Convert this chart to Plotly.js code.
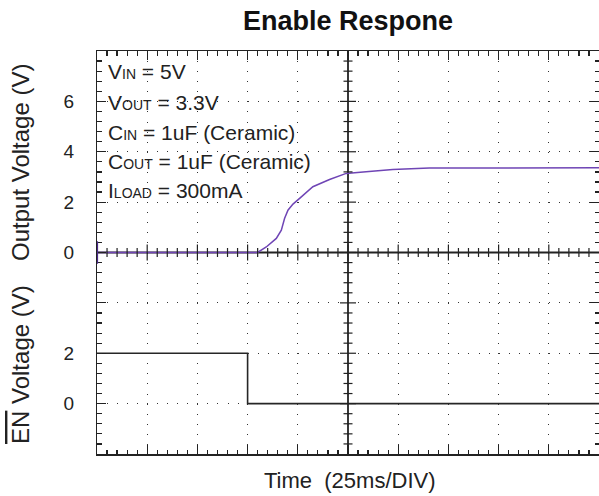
<!DOCTYPE html>
<html>
<head>
<meta charset="utf-8">
<script src="https://cdn.plot.ly/plotly-3.0.1.min.js"></script>
<style>
  html, body { margin: 0; padding: 0; background: #fff; }
  #chart { width: 599px; height: 496px; }
</style>
</head>
<body>
<div id="chart"></div>
<script>
// Time base: 25 ms per division, 10 divisions across
const timeMs = [0, 80, 84.3, 89.3, 91.8, 93.4, 95.1, 97.6, 100.9, 107.5, 115.8, 124.1, 134, 147.3, 165.5, 200, 250];
// Output voltage (upper channel, 2 V/div)
const vOut = [0, 0, 0.22, 0.56, 0.89, 1.35, 1.68, 1.92, 2.15, 2.61, 2.90, 3.14, 3.21, 3.30, 3.35, 3.36, 3.36];
// EN-bar voltage (lower channel, 2 V/div)
const enTimeMs = [0, 75, 75, 250];
const vEn = [2, 2, 0, 0];

const outTicks = [0, 2, 4, 6];
const enTicks = [0, 2];
const conditions = [
  'V<span style="font-size:14px">IN</span> = 5V',
  'V<span style="font-size:14px">OUT</span> = 3.3V',
  'C<span style="font-size:14px">IN</span> = 1uF (Ceramic)',
  'C<span style="font-size:14px">OUT</span> = 1uF (Ceramic)',
  'I<span style="font-size:14px">LOAD</span> = 300mA'
];

const FONT = 'Arial, "Liberation Sans", sans-serif';
const INK = '#222';
const TRACE_PURPLE = '#6f45b5';

// Plot box in pixels
const W = 599, H = 496;
const M = {l: 97, r: 0, t: 51, b: 42};
const plotH = H - M.t - M.b;
const plotW = W - M.l - M.r;

const traces = [
  {
    x: timeMs, y: vOut, type: 'scatter', mode: 'lines',
    line: {color: TRACE_PURPLE, width: 1.5},
    xaxis: 'x', yaxis: 'y2', hoverinfo: 'skip'
  },
  {
    x: enTimeMs, y: vEn, type: 'scatter', mode: 'lines',
    line: {color: '#262626', width: 1.6},
    xaxis: 'x', yaxis: 'y3', hoverinfo: 'skip'
  }
];

// Centre cross of the graticule with its fine ticks
const shapes = [];
shapes.push({type: 'line', layer: 'between', xref: 'x', yref: 'paper', x0: 125, x1: 125, y0: 0, y1: 1,
             line: {color: INK, width: 1.8}});
shapes.push({type: 'line', layer: 'between', xref: 'paper', yref: 'y', x0: 0, x1: 1, y0: 0, y1: 0,
             line: {color: INK, width: 1.8}});
for (let i = 1; i < 50; i++) {
  const major = i % 5 === 0;
  const h = major ? 8 : 4.5;
  shapes.push({type: 'line', layer: 'above', xref: 'x', yref: 'y', ysizemode: 'pixel', yanchor: 0,
               x0: 5 * i, x1: 5 * i, y0: -h, y1: h, line: {color: INK, width: 1.2}});
}
for (let j = -19; j <= 19; j++) {
  const major = j % 5 === 0;
  const h = major ? 8 : 4.5;
  shapes.push({type: 'line', layer: 'above', xref: 'x', yref: 'y', xsizemode: 'pixel', xanchor: 125,
               x0: -h, x1: h, y0: 0.4 * j, y1: 0.4 * j, line: {color: INK, width: 1.2}});
}
// Channel 1 ground marker on the left edge
shapes.push({type: 'line', layer: 'above', xref: 'x', yref: 'y', xsizemode: 'pixel', xanchor: 0,
             x0: 0, x1: 0, y0: -0.45, y1: 0.45, line: {color: '#4b2a8a', width: 2.2}});

const annotations = [];
const condY = [71.7, 102.5, 132.3, 161.7, 190];
conditions.forEach((txt, k) => {
  annotations.push({
    text: txt, xref: 'paper', yref: 'paper',
    x: (106 - M.l) / plotW, y: (H - M.b - condY[k]) / plotH,
    xanchor: 'left', yanchor: 'middle', showarrow: false,
    font: {family: FONT, size: 21, color: INK}
  });
});
annotations.push({
  text: 'Output Voltage (V)', xref: 'paper', yref: 'paper',
  x: (20 - M.l) / plotW, y: (H - M.b - 163) / plotH, textangle: -90,
  xanchor: 'center', yanchor: 'middle', showarrow: false,
  font: {family: FONT, size: 24, color: INK}
});
annotations.push({
  text: '<span style="text-decoration:overline">EN</span> Voltage (V)', xref: 'paper', yref: 'paper',
  x: (20 - M.l) / plotW, y: (H - M.b - 365) / plotH, textangle: -90,
  xanchor: 'center', yanchor: 'middle', showarrow: false,
  font: {family: FONT, size: 24, color: INK}
});
annotations.push({
  text: 'Time\u00a0 (25ms/DIV)', xref: 'paper', yref: 'paper',
  x: (350 - M.l) / plotW, y: (H - M.b - 480) / plotH,
  xanchor: 'center', yanchor: 'middle', showarrow: false,
  font: {family: FONT, size: 22, color: INK}
});

const labelAxis = (range, vals) => ({
  overlaying: 'y', anchor: 'x', side: 'left', range: range,
  tickmode: 'array', tickvals: vals, ticktext: vals.map(String),
  showgrid: false, zeroline: false, showline: false, ticks: '',
  ticklabelstandoff: 22,
  tickfont: {family: FONT, size: 19, color: INK}
});

const layout = {
  width: W, height: H,
  margin: M,
  paper_bgcolor: '#fff', plot_bgcolor: '#fff',
  showlegend: false,
  title: {
    text: '<b>Enable Respone</b>', x: 0.5, xref: 'paper', xanchor: 'center',
    y: 1 - 21 / H, yref: 'container', yanchor: 'middle',
    font: {family: FONT, size: 27, color: '#111'}
  },
  xaxis: {
    range: [0, 250], tickmode: 'linear', tick0: 0, dtick: 25,
    showticklabels: false, zeroline: false,
    showline: true, linecolor: INK, linewidth: 1.5, mirror: 'ticks',
    ticks: 'inside', ticklen: 9, tickwidth: 1.2, tickcolor: INK,
    showgrid: true, gridcolor: '#333', gridwidth: 1, griddash: '1px,9.075px',
    minor: {tickmode: 'linear', tick0: 0, dtick: 5, ticks: 'inside', ticklen: 4.5,
            tickwidth: 1.2, tickcolor: INK, showgrid: false}
  },
  yaxis: {
    range: [-8, 8], tickmode: 'linear', tick0: 0, dtick: 2,
    showticklabels: false, zeroline: false,
    showline: true, linecolor: INK, linewidth: 1.5, mirror: 'ticks',
    ticks: 'inside', ticklen: 9, tickwidth: 1.2, tickcolor: INK,
    showgrid: true, gridcolor: '#333', gridwidth: 1, griddash: '1px,9.04px',
    minor: {tickmode: 'linear', tick0: 0, dtick: 0.4, ticks: 'inside', ticklen: 4.5,
            tickwidth: 1.2, tickcolor: INK, showgrid: false}
  },
  yaxis2: labelAxis([-8, 8], outTicks),
  yaxis3: labelAxis([-2, 14], enTicks),
  shapes: shapes,
  annotations: annotations
};

Plotly.newPlot('chart', traces, layout, {staticPlot: true, displayModeBar: false});
</script>
</body>
</html>
